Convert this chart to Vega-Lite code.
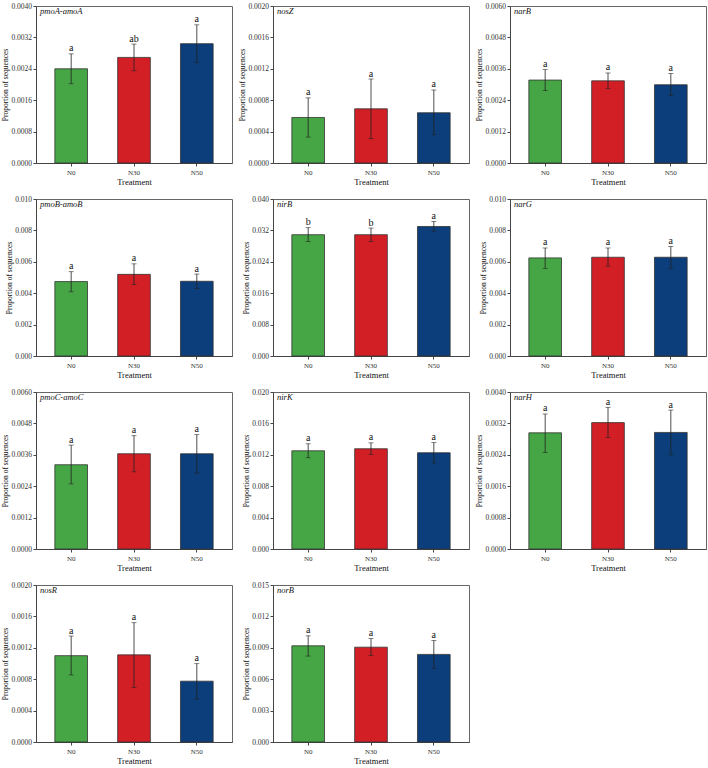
{
"$schema":"https://vega.github.io/schema/vega-lite/v6.json",
"padding":{"left":0,"top":1,"right":2,"bottom":1},
"background":"white",
"data":{"values":[
{"gene":"pmoA-amoA","treatment":"N0","mean":0.00240,"lo":0.00202,"hi":0.00278,"letter":"a"},
{"gene":"pmoA-amoA","treatment":"N30","mean":0.00269,"lo":0.00235,"hi":0.00303,"letter":"ab"},
{"gene":"pmoA-amoA","treatment":"N50","mean":0.00304,"lo":0.00256,"hi":0.00352,"letter":"a"},
{"gene":"nosZ","treatment":"N0","mean":0.00058,"lo":0.00033,"hi":0.00083,"letter":"a"},
{"gene":"nosZ","treatment":"N30","mean":0.00069,"lo":0.00031,"hi":0.00107,"letter":"a"},
{"gene":"nosZ","treatment":"N50","mean":0.00064,"lo":0.00036,"hi":0.00093,"letter":"a"},
{"gene":"narB","treatment":"N0","mean":0.00317,"lo":0.00277,"hi":0.00357,"letter":"a"},
{"gene":"narB","treatment":"N30","mean":0.00314,"lo":0.00284,"hi":0.00344,"letter":"a"},
{"gene":"narB","treatment":"N50","mean":0.00299,"lo":0.00258,"hi":0.00342,"letter":"a"},
{"gene":"pmoB-amoB","treatment":"N0","mean":0.00474,"lo":0.00409,"hi":0.00537,"letter":"a"},
{"gene":"pmoB-amoB","treatment":"N30","mean":0.00520,"lo":0.00455,"hi":0.00587,"letter":"a"},
{"gene":"pmoB-amoB","treatment":"N50","mean":0.00476,"lo":0.00430,"hi":0.00522,"letter":"a"},
{"gene":"nirB","treatment":"N0","mean":0.0309,"lo":0.0292,"hi":0.0327,"letter":"b"},
{"gene":"nirB","treatment":"N30","mean":0.0309,"lo":0.0292,"hi":0.0326,"letter":"b"},
{"gene":"nirB","treatment":"N50","mean":0.0330,"lo":0.0318,"hi":0.0343,"letter":"a"},
{"gene":"narG","treatment":"N0","mean":0.00625,"lo":0.00558,"hi":0.00688,"letter":"a"},
{"gene":"narG","treatment":"N30","mean":0.00629,"lo":0.00572,"hi":0.00688,"letter":"a"},
{"gene":"narG","treatment":"N50","mean":0.00629,"lo":0.00556,"hi":0.00698,"letter":"a"},
{"gene":"pmoC-amoC","treatment":"N0","mean":0.00322,"lo":0.00249,"hi":0.00397,"letter":"a"},
{"gene":"pmoC-amoC","treatment":"N30","mean":0.00364,"lo":0.00295,"hi":0.00433,"letter":"a"},
{"gene":"pmoC-amoC","treatment":"N50","mean":0.00364,"lo":0.00290,"hi":0.00437,"letter":"a"},
{"gene":"nirK","treatment":"N0","mean":0.01251,"lo":0.01163,"hi":0.01340,"letter":"a"},
{"gene":"nirK","treatment":"N30","mean":0.01277,"lo":0.01205,"hi":0.01352,"letter":"a"},
{"gene":"nirK","treatment":"N50","mean":0.01226,"lo":0.01096,"hi":0.01356,"letter":"a"},
{"gene":"narH","treatment":"N0","mean":0.00296,"lo":0.00246,"hi":0.00344,"letter":"a"},
{"gene":"narH","treatment":"N30","mean":0.00322,"lo":0.00284,"hi":0.00361,"letter":"a"},
{"gene":"narH","treatment":"N50","mean":0.00297,"lo":0.00240,"hi":0.00354,"letter":"a"},
{"gene":"nosR","treatment":"N0","mean":0.00110,"lo":0.000855,"hi":0.00135,"letter":"a"},
{"gene":"nosR","treatment":"N30","mean":0.00111,"lo":0.000695,"hi":0.00152,"letter":"a"},
{"gene":"nosR","treatment":"N50","mean":0.000775,"lo":0.000547,"hi":0.000998,"letter":"a"},
{"gene":"norB","treatment":"N0","mean":0.00919,"lo":0.00821,"hi":0.01014,"letter":"a"},
{"gene":"norB","treatment":"N30","mean":0.00906,"lo":0.00827,"hi":0.00988,"letter":"a"},
{"gene":"norB","treatment":"N50","mean":0.00837,"lo":0.00701,"hi":0.00969,"letter":"a"}
]},
"columns":3,
"spacing":{"row":8,"column":4},
"resolve":{"scale":{"y":"independent","x":"independent"}},
"concat":[
{"title":{"text":"pmoA-amoA"},"transform":[{"filter":"datum.gene === 'pmoA-amoA'"}],"width":196,"height":157,
 "encoding":{"x":{"field":"treatment","type":"nominal","sort":["N0","N30","N50"],"title":"Treatment","scale":{"paddingInner":0.48,"paddingOuter":0.3},"axis":{"labelAngle":0}}},
 "layer":[
  {"mark":{"type":"bar","stroke":"#333","strokeWidth":0.8},"encoding":{"y":{"field":"mean","type":"quantitative","title":"Proportion of sequences","scale":{"domain":[0,0.004],"nice":false},"axis":{"values":[0,0.0008,0.0016,0.0024,0.0032,0.004],"tickCount":6,"format":".4f"}},"color":{"field":"treatment","type":"nominal","scale":{"domain":["N0","N30","N50"],"range":["#46a544","#d21f26","#0b3e7a"]},"legend":null}}},
  {"mark":{"type":"rule","color":"#222","strokeWidth":0.8},"encoding":{"y":{"field":"lo","type":"quantitative","title":"Proportion of sequences"},"y2":{"field":"hi"}}},
  {"mark":{"type":"tick","orient":"horizontal","size":5,"thickness":0.8,"color":"#222"},"encoding":{"y":{"field":"hi","type":"quantitative","title":"Proportion of sequences"}}},
  {"mark":{"type":"tick","orient":"horizontal","size":5,"thickness":0.8,"color":"#222"},"encoding":{"y":{"field":"lo","type":"quantitative","title":"Proportion of sequences"}}},
  {"mark":{"type":"text","baseline":"alphabetic","dy":-2.5,"font":"Liberation Serif","fontSize":10,"color":"#111"},"encoding":{"y":{"field":"hi","type":"quantitative","title":"Proportion of sequences"},"text":{"field":"letter"}}}
 ]},
{"title":{"text":"nosZ"},"transform":[{"filter":"datum.gene === 'nosZ'"}],"width":196,"height":157,
 "encoding":{"x":{"field":"treatment","type":"nominal","sort":["N0","N30","N50"],"title":"Treatment","scale":{"paddingInner":0.48,"paddingOuter":0.3},"axis":{"labelAngle":0}}},
 "layer":[
  {"mark":{"type":"bar","stroke":"#333","strokeWidth":0.8},"encoding":{"y":{"field":"mean","type":"quantitative","title":"Proportion of sequences","scale":{"domain":[0,0.002],"nice":false},"axis":{"values":[0,0.0004,0.0008,0.0012,0.0016,0.002],"tickCount":6,"format":".4f"}},"color":{"field":"treatment","type":"nominal","scale":{"domain":["N0","N30","N50"],"range":["#46a544","#d21f26","#0b3e7a"]},"legend":null}}},
  {"mark":{"type":"rule","color":"#222","strokeWidth":0.8},"encoding":{"y":{"field":"lo","type":"quantitative","title":"Proportion of sequences"},"y2":{"field":"hi"}}},
  {"mark":{"type":"tick","orient":"horizontal","size":5,"thickness":0.8,"color":"#222"},"encoding":{"y":{"field":"hi","type":"quantitative","title":"Proportion of sequences"}}},
  {"mark":{"type":"tick","orient":"horizontal","size":5,"thickness":0.8,"color":"#222"},"encoding":{"y":{"field":"lo","type":"quantitative","title":"Proportion of sequences"}}},
  {"mark":{"type":"text","baseline":"alphabetic","dy":-2.5,"font":"Liberation Serif","fontSize":10,"color":"#111"},"encoding":{"y":{"field":"hi","type":"quantitative","title":"Proportion of sequences"},"text":{"field":"letter"}}}
 ]},
{"title":{"text":"narB"},"transform":[{"filter":"datum.gene === 'narB'"}],"width":196,"height":157,
 "encoding":{"x":{"field":"treatment","type":"nominal","sort":["N0","N30","N50"],"title":"Treatment","scale":{"paddingInner":0.48,"paddingOuter":0.3},"axis":{"labelAngle":0}}},
 "layer":[
  {"mark":{"type":"bar","stroke":"#333","strokeWidth":0.8},"encoding":{"y":{"field":"mean","type":"quantitative","title":"Proportion of sequences","scale":{"domain":[0,0.006],"nice":false},"axis":{"values":[0,0.0012,0.0024,0.0036,0.0048,0.006],"tickCount":6,"format":".4f"}},"color":{"field":"treatment","type":"nominal","scale":{"domain":["N0","N30","N50"],"range":["#46a544","#d21f26","#0b3e7a"]},"legend":null}}},
  {"mark":{"type":"rule","color":"#222","strokeWidth":0.8},"encoding":{"y":{"field":"lo","type":"quantitative","title":"Proportion of sequences"},"y2":{"field":"hi"}}},
  {"mark":{"type":"tick","orient":"horizontal","size":5,"thickness":0.8,"color":"#222"},"encoding":{"y":{"field":"hi","type":"quantitative","title":"Proportion of sequences"}}},
  {"mark":{"type":"tick","orient":"horizontal","size":5,"thickness":0.8,"color":"#222"},"encoding":{"y":{"field":"lo","type":"quantitative","title":"Proportion of sequences"}}},
  {"mark":{"type":"text","baseline":"alphabetic","dy":-2.5,"font":"Liberation Serif","fontSize":10,"color":"#111"},"encoding":{"y":{"field":"hi","type":"quantitative","title":"Proportion of sequences"},"text":{"field":"letter"}}}
 ]},
{"title":{"text":"pmoB-amoB"},"transform":[{"filter":"datum.gene === 'pmoB-amoB'"}],"width":196,"height":157,
 "encoding":{"x":{"field":"treatment","type":"nominal","sort":["N0","N30","N50"],"title":"Treatment","scale":{"paddingInner":0.48,"paddingOuter":0.3},"axis":{"labelAngle":0}}},
 "layer":[
  {"mark":{"type":"bar","stroke":"#333","strokeWidth":0.8},"encoding":{"y":{"field":"mean","type":"quantitative","title":"Proportion of sequences","scale":{"domain":[0,0.01],"nice":false},"axis":{"values":[0,0.002,0.004,0.006,0.008,0.01],"tickCount":6,"format":".3f"}},"color":{"field":"treatment","type":"nominal","scale":{"domain":["N0","N30","N50"],"range":["#46a544","#d21f26","#0b3e7a"]},"legend":null}}},
  {"mark":{"type":"rule","color":"#222","strokeWidth":0.8},"encoding":{"y":{"field":"lo","type":"quantitative","title":"Proportion of sequences"},"y2":{"field":"hi"}}},
  {"mark":{"type":"tick","orient":"horizontal","size":5,"thickness":0.8,"color":"#222"},"encoding":{"y":{"field":"hi","type":"quantitative","title":"Proportion of sequences"}}},
  {"mark":{"type":"tick","orient":"horizontal","size":5,"thickness":0.8,"color":"#222"},"encoding":{"y":{"field":"lo","type":"quantitative","title":"Proportion of sequences"}}},
  {"mark":{"type":"text","baseline":"alphabetic","dy":-2.5,"font":"Liberation Serif","fontSize":10,"color":"#111"},"encoding":{"y":{"field":"hi","type":"quantitative","title":"Proportion of sequences"},"text":{"field":"letter"}}}
 ]},
{"title":{"text":"nirB"},"transform":[{"filter":"datum.gene === 'nirB'"}],"width":196,"height":157,
 "encoding":{"x":{"field":"treatment","type":"nominal","sort":["N0","N30","N50"],"title":"Treatment","scale":{"paddingInner":0.48,"paddingOuter":0.3},"axis":{"labelAngle":0}}},
 "layer":[
  {"mark":{"type":"bar","stroke":"#333","strokeWidth":0.8},"encoding":{"y":{"field":"mean","type":"quantitative","title":"Proportion of sequences","scale":{"domain":[0,0.04],"nice":false},"axis":{"values":[0,0.008,0.016,0.024,0.032,0.04],"tickCount":6,"format":".3f"}},"color":{"field":"treatment","type":"nominal","scale":{"domain":["N0","N30","N50"],"range":["#46a544","#d21f26","#0b3e7a"]},"legend":null}}},
  {"mark":{"type":"rule","color":"#222","strokeWidth":0.8},"encoding":{"y":{"field":"lo","type":"quantitative","title":"Proportion of sequences"},"y2":{"field":"hi"}}},
  {"mark":{"type":"tick","orient":"horizontal","size":5,"thickness":0.8,"color":"#222"},"encoding":{"y":{"field":"hi","type":"quantitative","title":"Proportion of sequences"}}},
  {"mark":{"type":"tick","orient":"horizontal","size":5,"thickness":0.8,"color":"#222"},"encoding":{"y":{"field":"lo","type":"quantitative","title":"Proportion of sequences"}}},
  {"mark":{"type":"text","baseline":"alphabetic","dy":-2.5,"font":"Liberation Serif","fontSize":10,"color":"#111"},"encoding":{"y":{"field":"hi","type":"quantitative","title":"Proportion of sequences"},"text":{"field":"letter"}}}
 ]},
{"title":{"text":"narG"},"transform":[{"filter":"datum.gene === 'narG'"}],"width":196,"height":157,
 "encoding":{"x":{"field":"treatment","type":"nominal","sort":["N0","N30","N50"],"title":"Treatment","scale":{"paddingInner":0.48,"paddingOuter":0.3},"axis":{"labelAngle":0}}},
 "layer":[
  {"mark":{"type":"bar","stroke":"#333","strokeWidth":0.8},"encoding":{"y":{"field":"mean","type":"quantitative","title":"Proportion of sequences","scale":{"domain":[0,0.01],"nice":false},"axis":{"values":[0,0.002,0.004,0.006,0.008,0.01],"tickCount":6,"format":".3f"}},"color":{"field":"treatment","type":"nominal","scale":{"domain":["N0","N30","N50"],"range":["#46a544","#d21f26","#0b3e7a"]},"legend":null}}},
  {"mark":{"type":"rule","color":"#222","strokeWidth":0.8},"encoding":{"y":{"field":"lo","type":"quantitative","title":"Proportion of sequences"},"y2":{"field":"hi"}}},
  {"mark":{"type":"tick","orient":"horizontal","size":5,"thickness":0.8,"color":"#222"},"encoding":{"y":{"field":"hi","type":"quantitative","title":"Proportion of sequences"}}},
  {"mark":{"type":"tick","orient":"horizontal","size":5,"thickness":0.8,"color":"#222"},"encoding":{"y":{"field":"lo","type":"quantitative","title":"Proportion of sequences"}}},
  {"mark":{"type":"text","baseline":"alphabetic","dy":-2.5,"font":"Liberation Serif","fontSize":10,"color":"#111"},"encoding":{"y":{"field":"hi","type":"quantitative","title":"Proportion of sequences"},"text":{"field":"letter"}}}
 ]},
{"title":{"text":"pmoC-amoC"},"transform":[{"filter":"datum.gene === 'pmoC-amoC'"}],"width":196,"height":157,
 "encoding":{"x":{"field":"treatment","type":"nominal","sort":["N0","N30","N50"],"title":"Treatment","scale":{"paddingInner":0.48,"paddingOuter":0.3},"axis":{"labelAngle":0}}},
 "layer":[
  {"mark":{"type":"bar","stroke":"#333","strokeWidth":0.8},"encoding":{"y":{"field":"mean","type":"quantitative","title":"Proportion of sequences","scale":{"domain":[0,0.006],"nice":false},"axis":{"values":[0,0.0012,0.0024,0.0036,0.0048,0.006],"tickCount":6,"format":".4f"}},"color":{"field":"treatment","type":"nominal","scale":{"domain":["N0","N30","N50"],"range":["#46a544","#d21f26","#0b3e7a"]},"legend":null}}},
  {"mark":{"type":"rule","color":"#222","strokeWidth":0.8},"encoding":{"y":{"field":"lo","type":"quantitative","title":"Proportion of sequences"},"y2":{"field":"hi"}}},
  {"mark":{"type":"tick","orient":"horizontal","size":5,"thickness":0.8,"color":"#222"},"encoding":{"y":{"field":"hi","type":"quantitative","title":"Proportion of sequences"}}},
  {"mark":{"type":"tick","orient":"horizontal","size":5,"thickness":0.8,"color":"#222"},"encoding":{"y":{"field":"lo","type":"quantitative","title":"Proportion of sequences"}}},
  {"mark":{"type":"text","baseline":"alphabetic","dy":-2.5,"font":"Liberation Serif","fontSize":10,"color":"#111"},"encoding":{"y":{"field":"hi","type":"quantitative","title":"Proportion of sequences"},"text":{"field":"letter"}}}
 ]},
{"title":{"text":"nirK"},"transform":[{"filter":"datum.gene === 'nirK'"}],"width":196,"height":157,
 "encoding":{"x":{"field":"treatment","type":"nominal","sort":["N0","N30","N50"],"title":"Treatment","scale":{"paddingInner":0.48,"paddingOuter":0.3},"axis":{"labelAngle":0}}},
 "layer":[
  {"mark":{"type":"bar","stroke":"#333","strokeWidth":0.8},"encoding":{"y":{"field":"mean","type":"quantitative","title":"Proportion of sequences","scale":{"domain":[0,0.02],"nice":false},"axis":{"values":[0,0.004,0.008,0.012,0.016,0.02],"tickCount":6,"format":".3f"}},"color":{"field":"treatment","type":"nominal","scale":{"domain":["N0","N30","N50"],"range":["#46a544","#d21f26","#0b3e7a"]},"legend":null}}},
  {"mark":{"type":"rule","color":"#222","strokeWidth":0.8},"encoding":{"y":{"field":"lo","type":"quantitative","title":"Proportion of sequences"},"y2":{"field":"hi"}}},
  {"mark":{"type":"tick","orient":"horizontal","size":5,"thickness":0.8,"color":"#222"},"encoding":{"y":{"field":"hi","type":"quantitative","title":"Proportion of sequences"}}},
  {"mark":{"type":"tick","orient":"horizontal","size":5,"thickness":0.8,"color":"#222"},"encoding":{"y":{"field":"lo","type":"quantitative","title":"Proportion of sequences"}}},
  {"mark":{"type":"text","baseline":"alphabetic","dy":-2.5,"font":"Liberation Serif","fontSize":10,"color":"#111"},"encoding":{"y":{"field":"hi","type":"quantitative","title":"Proportion of sequences"},"text":{"field":"letter"}}}
 ]},
{"title":{"text":"narH"},"transform":[{"filter":"datum.gene === 'narH'"}],"width":196,"height":157,
 "encoding":{"x":{"field":"treatment","type":"nominal","sort":["N0","N30","N50"],"title":"Treatment","scale":{"paddingInner":0.48,"paddingOuter":0.3},"axis":{"labelAngle":0}}},
 "layer":[
  {"mark":{"type":"bar","stroke":"#333","strokeWidth":0.8},"encoding":{"y":{"field":"mean","type":"quantitative","title":"Proportion of sequences","scale":{"domain":[0,0.004],"nice":false},"axis":{"values":[0,0.0008,0.0016,0.0024,0.0032,0.004],"tickCount":6,"format":".4f"}},"color":{"field":"treatment","type":"nominal","scale":{"domain":["N0","N30","N50"],"range":["#46a544","#d21f26","#0b3e7a"]},"legend":null}}},
  {"mark":{"type":"rule","color":"#222","strokeWidth":0.8},"encoding":{"y":{"field":"lo","type":"quantitative","title":"Proportion of sequences"},"y2":{"field":"hi"}}},
  {"mark":{"type":"tick","orient":"horizontal","size":5,"thickness":0.8,"color":"#222"},"encoding":{"y":{"field":"hi","type":"quantitative","title":"Proportion of sequences"}}},
  {"mark":{"type":"tick","orient":"horizontal","size":5,"thickness":0.8,"color":"#222"},"encoding":{"y":{"field":"lo","type":"quantitative","title":"Proportion of sequences"}}},
  {"mark":{"type":"text","baseline":"alphabetic","dy":-2.5,"font":"Liberation Serif","fontSize":10,"color":"#111"},"encoding":{"y":{"field":"hi","type":"quantitative","title":"Proportion of sequences"},"text":{"field":"letter"}}}
 ]},
{"title":{"text":"nosR"},"transform":[{"filter":"datum.gene === 'nosR'"}],"width":196,"height":157,
 "encoding":{"x":{"field":"treatment","type":"nominal","sort":["N0","N30","N50"],"title":"Treatment","scale":{"paddingInner":0.48,"paddingOuter":0.3},"axis":{"labelAngle":0}}},
 "layer":[
  {"mark":{"type":"bar","stroke":"#333","strokeWidth":0.8},"encoding":{"y":{"field":"mean","type":"quantitative","title":"Proportion of sequences","scale":{"domain":[0,0.002],"nice":false},"axis":{"values":[0,0.0004,0.0008,0.0012,0.0016,0.002],"tickCount":6,"format":".4f"}},"color":{"field":"treatment","type":"nominal","scale":{"domain":["N0","N30","N50"],"range":["#46a544","#d21f26","#0b3e7a"]},"legend":null}}},
  {"mark":{"type":"rule","color":"#222","strokeWidth":0.8},"encoding":{"y":{"field":"lo","type":"quantitative","title":"Proportion of sequences"},"y2":{"field":"hi"}}},
  {"mark":{"type":"tick","orient":"horizontal","size":5,"thickness":0.8,"color":"#222"},"encoding":{"y":{"field":"hi","type":"quantitative","title":"Proportion of sequences"}}},
  {"mark":{"type":"tick","orient":"horizontal","size":5,"thickness":0.8,"color":"#222"},"encoding":{"y":{"field":"lo","type":"quantitative","title":"Proportion of sequences"}}},
  {"mark":{"type":"text","baseline":"alphabetic","dy":-2.5,"font":"Liberation Serif","fontSize":10,"color":"#111"},"encoding":{"y":{"field":"hi","type":"quantitative","title":"Proportion of sequences"},"text":{"field":"letter"}}}
 ]},
{"title":{"text":"norB"},"transform":[{"filter":"datum.gene === 'norB'"}],"width":196,"height":157,
 "encoding":{"x":{"field":"treatment","type":"nominal","sort":["N0","N30","N50"],"title":"Treatment","scale":{"paddingInner":0.48,"paddingOuter":0.3},"axis":{"labelAngle":0}}},
 "layer":[
  {"mark":{"type":"bar","stroke":"#333","strokeWidth":0.8},"encoding":{"y":{"field":"mean","type":"quantitative","title":"Proportion of sequences","scale":{"domain":[0,0.015],"nice":false},"axis":{"values":[0,0.003,0.006,0.009,0.012,0.015],"tickCount":6,"format":".3f"}},"color":{"field":"treatment","type":"nominal","scale":{"domain":["N0","N30","N50"],"range":["#46a544","#d21f26","#0b3e7a"]},"legend":null}}},
  {"mark":{"type":"rule","color":"#222","strokeWidth":0.8},"encoding":{"y":{"field":"lo","type":"quantitative","title":"Proportion of sequences"},"y2":{"field":"hi"}}},
  {"mark":{"type":"tick","orient":"horizontal","size":5,"thickness":0.8,"color":"#222"},"encoding":{"y":{"field":"hi","type":"quantitative","title":"Proportion of sequences"}}},
  {"mark":{"type":"tick","orient":"horizontal","size":5,"thickness":0.8,"color":"#222"},"encoding":{"y":{"field":"lo","type":"quantitative","title":"Proportion of sequences"}}},
  {"mark":{"type":"text","baseline":"alphabetic","dy":-2.5,"font":"Liberation Serif","fontSize":10,"color":"#111"},"encoding":{"y":{"field":"hi","type":"quantitative","title":"Proportion of sequences"},"text":{"field":"letter"}}}
 ]}
],
"config":{
 "font":"Liberation Serif",
 "view":{"stroke":"#666","strokeWidth":1},
 "axis":{"labelFont":"Liberation Serif","titleFont":"Liberation Serif","labelFontSize":7.5,"titleFontSize":7.5,"titleFontWeight":"normal","labelColor":"#333","titleColor":"#111","domainColor":"#444","tickColor":"#444","tickSize":3,"grid":false,"labelPadding":1.5,"titlePadding":1.5,"labelOverlap":false},
 "axisX":{"labelFontSize":7,"titleFontSize":8.5,"labelPadding":2,"titlePadding":2},
 "title":{"anchor":"start","orient":"top","frame":"group","offset":-13,"baseline":"alphabetic","dx":4,"font":"Liberation Serif","fontStyle":"italic","fontWeight":"normal","fontSize":8.5,"color":"#111"}
}
}
